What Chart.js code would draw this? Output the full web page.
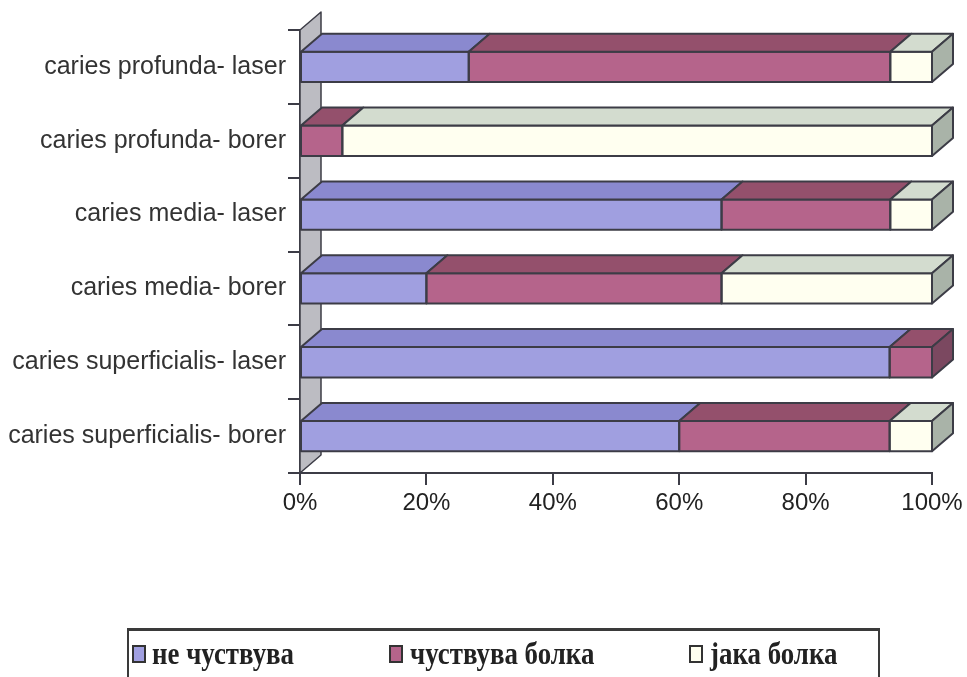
<!DOCTYPE html>
<html>
<head>
<meta charset="utf-8">
<title>caries</title>
<script src="https://cdn.jsdelivr.net/npm/chart.js@4"></script>
<style>
  html, body { margin: 0; padding: 0; background: #fff; }
  #wrap { position: relative; width: 967px; height: 677px; overflow: hidden; }
  #legend {
    position: absolute; left: 127px; top: 628px; width: 753px; height: 70px;
    border: 2px solid #3a3a3a; border-top-width: 3px; box-sizing: border-box;
  }
  .sw {
    position: absolute; top: 14px; width: 14px; height: 18px;
    border: 2px solid #333; box-sizing: border-box;
  }
  .txt {
    position: absolute; top: 6px; line-height: 32px;
    font-family: "Liberation Serif", "DejaVu Serif", serif; font-weight: bold;
    font-size: 32px; color: #222; white-space: nowrap;
    transform: scaleX(0.84); transform-origin: left center;
  }
</style>
</head>
<body>
<div id="wrap">
  <canvas id="c" width="967" height="677"></canvas>
  <div id="legend"></div>
</div>
<script>
// Categories, top to bottom
const categories = [
  'caries profunda- laser',
  'caries profunda- borer',
  'caries media- laser',
  'caries media- borer',
  'caries superficialis- laser',
  'caries superficialis- borer'
];

// Share of patients per answer, in percent
const neChustvuva    = [26.7, 0,    66.7, 20.0, 93.3, 60.0];
const chustvuvaBolka = [66.7, 6.7,  26.7, 46.7, 6.7,  33.3];
const jakaBolka      = [6.6,  93.3, 6.6,  33.3, 0,    6.7];

const seriesNames = ['не чуствува', 'чуствува болка', 'јака болка'];
const tickValues  = [0, 20, 40, 60, 80, 100];

// Face colours: front, top, side
const palette = [
  { front: '#a09fe0', top: '#8a89cf', side: '#6f6eaa' },
  { front: '#b5648b', top: '#94506c', side: '#7b4860' },
  { front: '#fffff0', top: '#d3dccf', side: '#a9b3a8' }
];
const edgeColor = '#3c3c46';
const wallColor = '#bcbcc2';
const DX = 21, DY = 18;   // extrusion depth

function poly(ctx, pts, fill) {
  ctx.beginPath();
  ctx.moveTo(pts[0][0], pts[0][1]);
  for (let k = 1; k < pts.length; k++) ctx.lineTo(pts[k][0], pts[k][1]);
  ctx.closePath();
  ctx.fillStyle = fill;
  ctx.fill();
  ctx.stroke();
}

// Draws the side wall and the top / end faces of each stacked bar
const bar3d = {
  id: 'bar3d',
  beforeDatasetsDraw(chart) {
    const { ctx, chartArea: a } = chart;
    ctx.save();
    ctx.strokeStyle = edgeColor;
    ctx.lineWidth = 1.5;
    ctx.lineJoin = 'round';
    poly(ctx, [[a.left, a.top], [a.left + DX, a.top - DY], [a.left + DX, a.bottom - DY], [a.left, a.bottom]], wallColor);
    ctx.restore();
  },
  afterDatasetsDraw(chart) {
    const ctx = chart.ctx;
    ctx.save();
    ctx.strokeStyle = edgeColor;
    ctx.lineWidth = 2;
    ctx.lineJoin = 'round';
    const n = chart.data.labels.length;
    for (let i = 0; i < n; i++) {
      let last = null;
      chart.data.datasets.forEach((ds, d) => {
        if (!ds.data[i]) return;
        const el = chart.getDatasetMeta(d).data[i];
        const p = el.getProps(['x', 'y', 'base', 'height'], true);
        const top = p.y - p.height / 2, bottom = p.y + p.height / 2;
        const x0 = Math.min(p.x, p.base), x1 = Math.max(p.x, p.base);
        ctx.strokeRect(x0, top, x1 - x0, bottom - top);
        poly(ctx, [[x0, top], [x0 + DX, top - DY], [x1 + DX, top - DY], [x1, top]], palette[d].top);
        last = { x1, top, bottom, color: palette[d].side };
      });
      if (last) {
        poly(ctx, [[last.x1, last.top], [last.x1 + DX, last.top - DY],
                   [last.x1 + DX, last.bottom - DY], [last.x1, last.bottom]], last.color);
      }
    }
    ctx.restore();
  }
};

Chart.defaults.font.family = '"Liberation Sans", Arial, sans-serif';
Chart.defaults.color = '#333';

const seriesValues = [neChustvuva, chustvuvaBolka, jakaBolka];

const chart = new Chart(document.getElementById('c'), {
  type: 'bar',
  data: {
    labels: categories,
    datasets: seriesValues.map((vals, d) => ({
      label: seriesNames[d],
      data: vals,
      backgroundColor: palette[d].front,
      borderWidth: 0,
      barPercentage: 0.41,
      categoryPercentage: 1
    }))
  },
  options: {
    indexAxis: 'y',
    responsive: false,
    animation: false,
    devicePixelRatio: 1,
    layout: { padding: { left: 0, top: 30, right: 35, bottom: 0 } },
    plugins: { legend: { display: false }, tooltip: { enabled: false } },
    scales: {
      x: {
        stacked: true,
        min: 0, max: 100,
        afterBuildTicks: s => { s.ticks = tickValues.map(v => ({ value: v })); },
        afterFit: s => { s.height = 204; s.paddingLeft = 0; s.paddingRight = 0; },
        ticks: { callback: v => v + '%', font: { size: 24 }, color: '#222', padding: 4, maxRotation: 0 },
        grid: { drawOnChartArea: false, tickLength: 12, color: edgeColor, lineWidth: 2 },
        border: { display: true, color: edgeColor, width: 2 }
      },
      y: {
        stacked: true,
        afterFit: s => { s.width = 300; },
        ticks: { font: { size: 25 }, color: '#333', padding: 2 },
        grid: { offset: true, drawOnChartArea: false, tickLength: 12, color: edgeColor, lineWidth: 2 },
        border: { display: true, color: edgeColor, width: 2 }
      }
    }
  },
  plugins: [bar3d]
});

// Legend row under the chart
const legend = document.getElementById('legend');
const swatchLeft = [3, 260, 560];
const textLeft   = [23, 281, 581];
seriesNames.forEach((name, d) => {
  const sw = document.createElement('span');
  sw.className = 'sw';
  sw.style.left = swatchLeft[d] + 'px';
  sw.style.background = palette[d].front;
  const txt = document.createElement('span');
  txt.className = 'txt';
  txt.style.left = textLeft[d] + 'px';
  txt.textContent = name;
  legend.appendChild(sw);
  legend.appendChild(txt);
});
</script>
</body>
</html>
